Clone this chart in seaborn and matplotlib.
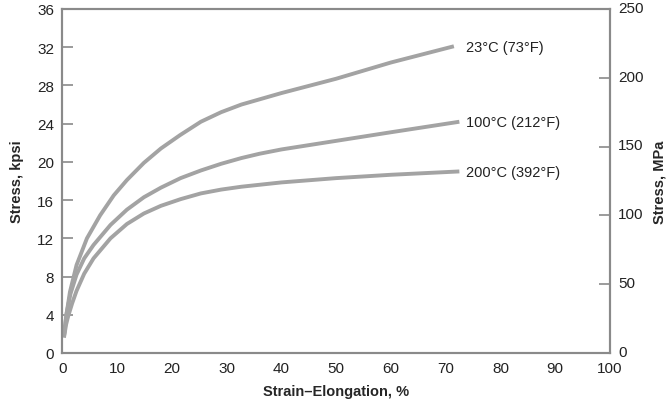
import matplotlib
matplotlib.use("Agg")
import matplotlib.pyplot as plt
from matplotlib.transforms import ScaledTranslation
import seaborn as sns
import pandas as pd

# strain (%) and stress (kpsi)
strain_23 = [0.3, 0.7, 1.4, 2.6, 4.5, 6.9, 9.4, 11.8, 14.9, 18, 21.5, 25.3, 29, 32.7, 40, 50, 60, 71.5]
stress_23 = [1.8, 3.8, 6.4, 9.2, 12.0, 14.4, 16.5, 18.1, 19.9, 21.4, 22.8, 24.2, 25.2, 26.0, 27.2, 28.7, 30.4, 32.1]

strain_100 = [0.3, 0.8, 1.5, 2.6, 4.0, 5.7, 8.8, 11.8, 14.9, 18, 21.6, 25.3, 29, 32.7, 36, 40, 50, 60, 72.5]
stress_100 = [1.7, 4.2, 6.2, 8.2, 9.9, 11.3, 13.4, 15.0, 16.3, 17.3, 18.3, 19.1, 19.8, 20.4, 20.85, 21.3, 22.2, 23.1, 24.2]

strain_200 = [0.3, 0.7, 1.1, 1.8, 2.6, 4.0, 5.7, 8.8, 11.8, 14.9, 18, 21.6, 25.3, 29, 32.7, 40, 50, 60, 72.5]
stress_200 = [1.6, 3.0, 3.9, 5.2, 6.5, 8.3, 9.9, 12.0, 13.5, 14.6, 15.4, 16.1, 16.7, 17.1, 17.4, 17.85, 18.3, 18.65, 19.0]

curve_names = ["23°C (73°F)", "100°C (212°F)", "200°C (392°F)"]
label_y = [32.0, 24.2, 18.9]

kpsi_ticks = [0, 4, 8, 12, 16, 20, 24, 28, 32, 36]
mpa_ticks = [0, 50, 100, 150, 200, 250]
strain_ticks = [0, 10, 20, 30, 40, 50, 60, 70, 80, 90, 100]

frames = []
for name, xs, ys in zip(curve_names,
                        [strain_23, strain_100, strain_200],
                        [stress_23, stress_100, stress_200]):
    frames.append(pd.DataFrame({"strain": xs, "stress": ys, "temp": name}))
df = pd.concat(frames, ignore_index=True)

sns.set_style("white")
plt.rcParams["font.family"] = ["Liberation Sans", "DejaVu Sans"]

line_col = "#a3a3a3"
axis_col = "#8a8a8a"

fig = plt.figure(figsize=(6.67, 4.06), dpi=100)
ax = fig.add_axes([0.0934, 0.1281, 0.8211, 0.8473])

sns.lineplot(data=df, x="strain", y="stress", hue="temp",
             palette=[line_col] * 3, linewidth=2.8, legend=False,
             sort=False, estimator=None, ax=ax,
             solid_joinstyle="round", solid_capstyle="butt")

for name, yv in zip(curve_names, label_y):
    ax.text(73.8, yv, name, fontsize=10.5, va="center", ha="left", color="#222222")

ax.set_xlim(0, 100)
ax.set_ylim(0, 36)
ax.set_xticks(strain_ticks)
ax.set_yticks(kpsi_ticks)
ax.set_xlabel("Strain–Elongation, %", fontsize=10.5, fontweight="bold", labelpad=6)
ax.set_ylabel("Stress, kpsi", fontsize=10.5, fontweight="bold", labelpad=9)

ax2 = ax.twinx()
ax2.set_ylim(0, 250)
ax2.set_yticks(mpa_ticks)
ax2.set_ylabel("Stress, MPa", fontsize=10.5, fontweight="bold", labelpad=6)

for a in (ax, ax2):
    for sp in a.spines.values():
        sp.set_color(axis_col)
        sp.set_linewidth(1.5)
    a.tick_params(direction="in", length=8, width=1.2, color=axis_col,
                  labelsize=11, labelcolor="#222222", pad=6)
ax.tick_params(axis="x", pad=6)

# lift the right-hand labels a little so "0" clears the "100" below
lift = ScaledTranslation(0, 2 / 72, fig.dpi_scale_trans)
for lbl in ax2.get_yticklabels():
    lbl.set_transform(lbl.get_transform() + lift)

fig.savefig("out.png", dpi=100)
